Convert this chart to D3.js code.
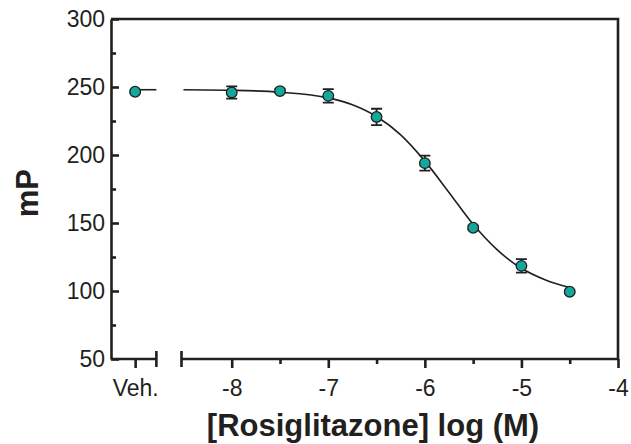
<!DOCTYPE html>
<html>
<head>
<meta charset="utf-8">
<script src="https://cdn.jsdelivr.net/npm/d3@7"></script>
<style>
  body { margin: 0; background: #fff; }
  text { font-family: "Liberation Sans", Arial, sans-serif; fill: #231f20; }
</style>
</head>
<body>
<svg width="631" height="444"></svg>
<script>
// concentrations, log(M); veh is drawn at -9 on the same scale
const logConc = [-8, -7.5, -7, -6.5, -6, -5.5, -5, -4.5];
const mP = [246, 247, 243.5, 228, 194, 146.5, 118.5, 99.5];
const sem = [4.5, 1.5, 5, 6, 5.5, 1.5, 5, 1];
const vehX = -9;
const vehMP = 246.5;
const vehSem = 1;
// fitted curve
const fitX = [-8.5, -8, -7.5, -7, -6.75, -6.5, -6.25, -6, -5.75, -5.5, -5.25, -5, -4.75, -4.5];
const fitY = [248, 247.6, 246.2, 242, 237, 228.3, 214.8, 195.5, 172.5, 149, 130.2, 116.7, 108.1, 102.5];
const vehFit = 248;
const xTicks = [-8, -7, -6, -5, -4];
const xMinor = [-7.5, -6.5, -5.5, -4.5];
const yTicks = [50, 100, 150, 200, 250, 300];
const yMinor = [75, 125, 175, 225, 275];

const ink = '#231f20';
const teal = '#13a89e';
const svg = d3.select('svg');

const x = d3.scaleLinear().domain([-9.25, -4]).range([111, 618]);
const y = d3.scaleLinear().domain([50, 300]).range([359, 19]);
const brk = [-8.78, -8.52]; // axis break

// frame top + right
svg.append('path')
  .attr('d', `M${x(-9.25)},${y(300)}H${x(-4)}V${y(50)}`)
  .attr('fill', 'none').attr('stroke', ink).attr('stroke-width', 2.6);

// y axis
svg.append('g').attr('transform', `translate(${x(-9.25)},0)`)
  .call(d3.axisLeft(y).tickValues(yTicks).tickSize(-8).tickPadding(6).tickSizeOuter(0));
svg.append('g').attr('transform', `translate(${x(-9.25)},0)`)
  .call(d3.axisLeft(y).tickValues(yMinor).tickSize(-5).tickFormat('').tickSizeOuter(0))
  .select('.domain').remove();

// x axis, two pieces
svg.append('g').attr('transform', `translate(0,${y(50)})`)
  .call(d3.axisBottom(x).tickValues(xTicks).tickSize(9).tickPadding(12).tickFormat(d => String(d)))
  .select('.domain').remove();
svg.append('g').attr('transform', `translate(0,${y(50)})`)
  .call(d3.axisBottom(x).tickValues(xMinor).tickSize(5).tickFormat(''))
  .select('.domain').remove();
svg.append('g').attr('transform', `translate(0,${y(50)})`)
  .call(d3.axisBottom(x).tickValues([vehX]).tickSize(9).tickPadding(12).tickFormat(() => 'Veh.'))
  .select('.domain').remove();

const base = y(50);
svg.append('path')
  .attr('d', `M${x(-9.25)},${base}H${x(brk[0])}M${x(brk[0])},${base - 8}V${base + 8}` +
             `M${x(brk[1])},${base - 8}V${base + 8}M${x(brk[1])},${base}H${x(-4)}`)
  .attr('fill', 'none').attr('stroke', ink).attr('stroke-width', 2.6);

svg.selectAll('g').attr('color', ink);
svg.selectAll('.tick line').attr('stroke', ink).attr('stroke-width', 2.6);
svg.selectAll('.domain').attr('stroke', ink).attr('stroke-width', 2.6);
svg.selectAll('.tick text').style('font-size', '23px').attr('fill', ink);

// fit line
const line = d3.line().x(d => x(d[0])).y(d => y(d[1])).curve(d3.curveMonotoneX);
svg.append('path')
  .attr('d', line(fitX.map((v, i) => [v, fitY[i]])))
  .attr('fill', 'none').attr('stroke', ink).attr('stroke-width', 1.6);
svg.append('path')
  .attr('d', line([[vehX, vehFit], [brk[0], vehFit]]))
  .attr('fill', 'none').attr('stroke', ink).attr('stroke-width', 1.6);

// error bars + points
const pts = logConc.map((v, i) => ({ c: v, m: mP[i], e: sem[i] }));
pts.push({ c: vehX, m: vehMP, e: vehSem });
const eb = svg.append('g').attr('stroke', ink).attr('stroke-width', 1.8).attr('fill', 'none');
pts.forEach(d => {
  const cx = x(d.c), y0 = y(d.m - d.e), y1 = y(d.m + d.e);
  eb.append('path').attr('d', `M${cx},${y0}V${y1}M${cx - 5.5},${y0}h11M${cx - 5.5},${y1}h11`);
});
svg.append('g').selectAll('circle').data(pts).join('circle')
  .attr('cx', d => x(d.c)).attr('cy', d => y(d.m)).attr('r', 5.3)
  .attr('fill', teal).attr('stroke', ink).attr('stroke-width', 1.3);

// axis titles
svg.append('text').attr('x', 373).attr('y', 436).attr('text-anchor', 'middle')
  .style('font-size', '31px').style('font-weight', 'bold')
  .text('[Rosiglitazone] log (M)');
svg.append('text').attr('transform', `translate(38,${y(172)}) rotate(-90)`)
  .attr('text-anchor', 'middle')
  .style('font-size', '31px').style('font-weight', 'bold')
  .text('mP');
</script>
</body>
</html>
